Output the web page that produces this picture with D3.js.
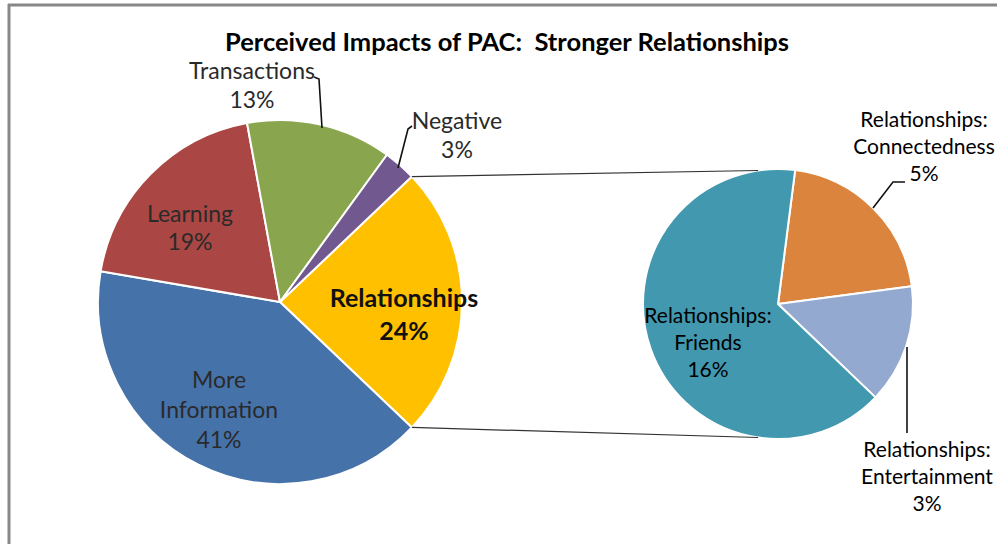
<!DOCTYPE html>
<html>
<head>
<meta charset="utf-8">
<script src="https://cdn.jsdelivr.net/npm/d3@7"></script>
<style>
  html, body { margin: 0; padding: 0; background: #fff; }
  svg { display: block; }
  text { white-space: pre; }
</style>
</head>
<body>
<svg id="chart" width="997" height="544"></svg>
<script>
// ---------- DATA ----------
const title = "Perceived Impacts of PAC:  Stronger Relationships";
// main pie (clockwise, starting with the slice broken out into the second pie)
const mainCategories = ["Relationships", "More Information", "Learning", "Transactions", "Negative"];
const mainValues = [24.2, 40.6, 19.4, 12.9, 2.9];
// second pie (breakdown of Relationships), clockwise
const subCategories = ["Relationships: Connectedness", "Relationships: Entertainment", "Relationships: Friends"];
const subValues = [5.05, 3.45, 15.7];

// ---------- LAYOUT / STYLE ----------
const mainColors = ["#FFC000", "#4672AA", "#AA4643", "#89A54E", "#71588F"];
const subColors = ["#DB843D", "#93A9CF", "#4198AF"];
const W = 997, H = 544;
const main = { cx: 280, cy: 302, r: 182 };
const sub = { cx: 778, cy: 304, r: 135, start: 7.3 };
const deg = Math.PI / 180;

// label text lines + anchor (center x, first baseline y) and line spacing
const mainLabelLayout = [
  { x: 404, y: 307, dy: 33, bold: true,  lines: ["Relationships", "%"] },
  { x: 219, y: 388, dy: 30, bold: false, lines: ["More", "Information", "%"] },
  { x: 190, y: 222, dy: 28, bold: false, lines: ["Learning", "%"] },
  { x: 252, y: 79,  dy: 29, bold: false, lines: ["Transactions", "%"] },
  { x: 457, y: 129, dy: 29, bold: false, lines: ["Negative", "%"] }
];
const subLabelLayout = [
  { x: 924, y: 127, dy: 27, lines: ["Relationships:", "Connectedness", "%"] },
  { x: 927, y: 457, dy: 27, lines: ["Relationships:", "Entertainment", "%"] },
  { x: 708, y: 323, dy: 27, lines: ["Relationships:", "Friends", "%"] }
];
const leaders = [
  [[314, 77], [319, 79], [322, 128]],
  [[412, 126], [408, 129], [398, 168]],
  [[905, 182], [893, 182], [873, 208]],
  [[907, 347], [907, 433]]
];

const svg = d3.select("#chart");
svg.append("rect").attr("width", W).attr("height", H).attr("fill", "#fff");

// frame (top and left edges visible)
svg.append("line").attr("x1", 8).attr("x2", W).attr("y1", 5).attr("y2", 5)
  .attr("stroke", "#888").attr("stroke-width", 3);
svg.append("line").attr("x1", 9).attr("x2", 9).attr("y1", 4).attr("y2", H)
  .attr("stroke", "#888").attr("stroke-width", 3);

// title
svg.append("text")
  .attr("x", 507).attr("y", 51)
  .attr("text-anchor", "middle")
  .attr("font-family", "Lato, 'Open Sans', sans-serif")
  .attr("font-weight", "bold")
  .attr("font-size", 25.5)
  .attr("fill", "#000")
  .text(title);

// ---------- main pie ----------
const mainSum = d3.sum(mainValues);
const relSpan = mainValues[0] / mainSum * 2 * Math.PI;
const mainStart = Math.PI / 2 - relSpan / 2;
const mainPie = d3.pie().sort(null).startAngle(mainStart).endAngle(mainStart + 2 * Math.PI);
const mainArcs = mainPie(mainValues);
const mainArc = d3.arc().innerRadius(0).outerRadius(main.r);

const gMain = svg.append("g").attr("transform", `translate(${main.cx},${main.cy})`);
gMain.selectAll("path").data(mainArcs).join("path")
  .attr("d", mainArc)
  .attr("fill", (d, i) => mainColors[i])
  .attr("stroke", "#fff")
  .attr("stroke-width", 2)
  .attr("stroke-linejoin", "round");

// ---------- sub pie ----------
const subStart = sub.start * deg;
const subPie = d3.pie().sort(null).startAngle(subStart).endAngle(subStart + 2 * Math.PI);
const subArcs = subPie(subValues);
const subArc = d3.arc().innerRadius(0).outerRadius(sub.r);
const gSub = svg.append("g").attr("transform", `translate(${sub.cx},${sub.cy})`);
gSub.selectAll("path").data(subArcs).join("path")
  .attr("d", subArc)
  .attr("fill", (d, i) => subColors[i])
  .attr("stroke", "#fff")
  .attr("stroke-width", 2)
  .attr("stroke-linejoin", "round");

// ---------- connector lines ----------
const rel = mainArcs[0];
function pt(c, r, a) { return [c.cx + r * Math.sin(a), c.cy - r * Math.cos(a)]; }
const p1 = pt(main, main.r, rel.startAngle), p2 = pt(main, main.r, rel.endAngle);
const q1 = pt(sub, sub.r, -8.5 * deg), q2 = pt(sub, sub.r, 188.5 * deg);
[[p1, q1], [p2, q2]].forEach(([a, b]) => {
  svg.append("line")
    .attr("x1", a[0]).attr("y1", a[1]).attr("x2", b[0]).attr("y2", b[1])
    .attr("stroke", "#333").attr("stroke-width", 1.2);
});

// ---------- leader lines ----------
const lineGen = d3.line();
leaders.forEach(l => {
  svg.append("path").attr("d", lineGen(l))
    .attr("fill", "none").attr("stroke", "#111").attr("stroke-width", 1.6);
});

// ---------- labels ----------
function pctText(v, total) { return Math.round(v / total * 100) + "%"; }
function pctAbs(v) { return Math.round(v) + "%"; }

mainLabelLayout.forEach((L, i) => {
  const t = svg.append("text")
    .attr("text-anchor", "middle")
    .attr("font-family", "Lato, 'Open Sans', sans-serif")
    .attr("font-size", L.bold ? 25 : 23)
    .attr("font-weight", L.bold ? "bold" : "normal")
    .attr("fill", L.bold ? "#111" : "#2a2a2a");
  L.lines.forEach((s, k) => {
    t.append("tspan").attr("x", L.x).attr("y", L.y + k * L.dy)
      .text(s === "%" ? pctText(mainValues[i], mainSum) : s);
  });
});

subLabelLayout.forEach((L, i) => {
  const t = svg.append("text")
    .attr("text-anchor", "middle")
    .attr("font-family", "Lato, 'Open Sans', sans-serif")
    .attr("font-size", 21)
    .attr("fill", "#000");
  L.lines.forEach((s, k) => {
    t.append("tspan").attr("x", L.x).attr("y", L.y + k * L.dy)
      .text(s === "%" ? pctAbs(subValues[i]) : s);
  });
});
</script>
</body>
</html>
